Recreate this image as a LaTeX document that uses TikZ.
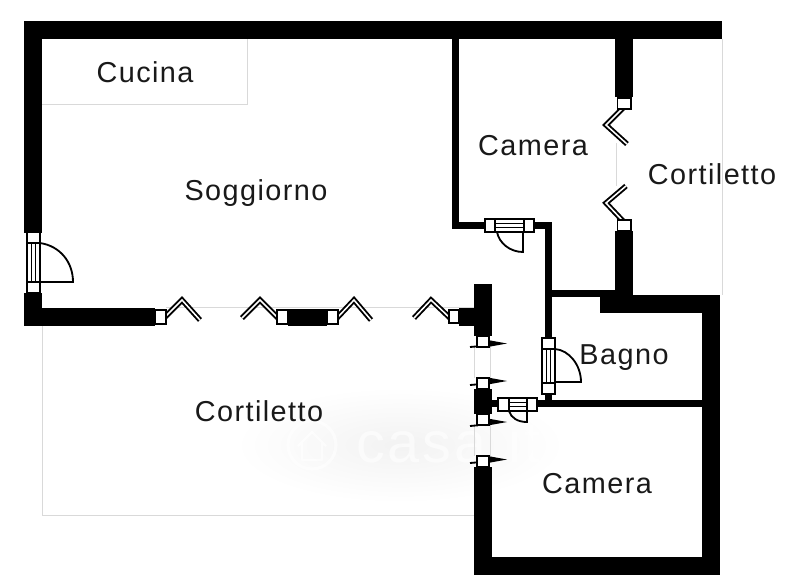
\documentclass[tikz,border=0pt]{standalone}
\usepackage{fontspec}
\setmainfont{Liberation Sans}[LetterSpace=5]
\tikzset{
 x=0.025cm,y=-0.025cm,
 wall/.style={fill=black,draw=none},
 faint/.style={draw=black!15,line width=0.5pt},
 hollow/.style={draw=black,fill=white,line width=1.4pt},
 wingouter/.style={draw=black,line width=3.8pt,line join=miter},
 winginner/.style={draw=white,line width=1.1pt,line join=miter},
 swing/.style={draw=black,line width=1.3pt,fill=none},
 lab/.style={font=\fontsize{20.5pt}{24pt}\selectfont,text=black!90,inner sep=0pt,anchor=base},
 water/.style={font=\fontsize{41pt}{46pt}\selectfont,text=white,text opacity=.6,inner sep=0pt,anchor=base west},
}
\newcommand{\wing}[3]{\draw[wingouter] #1 -- #2 -- #3; \draw[winginner] #1 -- #2 -- #3;}
\newcommand{\hdoor}[2]{%
 \draw[hollow] (#1,#2) rectangle ++(49,13);
 \draw[hollow] (#1,#2) rectangle ++(10,13);
 \draw[hollow] (#1+39,#2) rectangle ++(10,13);
 \draw[black,line width=1.1pt] (#1+10,#2+4.5) -- ++(29,0) (#1+10,#2+8.5) -- ++(29,0);}
\newcommand{\vdoor}[3]{%
 \draw[hollow] (#1,#2) rectangle ++(13,#3);
 \draw[hollow] (#1,#2) rectangle ++(13,11);
 \draw[hollow] (#1,#2+#3-11) rectangle ++(13,11);
 \draw[black,line width=1.1pt] (#1+4.5,#2+11) -- (#1+4.5,#2+#3-11) (#1+8.5,#2+11) -- (#1+8.5,#2+#3-11);}
\newcommand{\slide}[3]{%
 \fill[black] (485,#2-4) -- (507,#2) -- (485,#2+4) -- cycle;
 \draw[black,line width=1.3pt] (470,#3) -- (478,#3-0.7);
 \draw[hollow] (477,#1) rectangle ++(12,10.5);}
\begin{document}
\begin{tikzpicture}
\useasboundingbox (0,0) rectangle (800,587);
% watermark
\shade[inner color=black!5,outer color=white,draw=none] (400,445) ellipse (165 and 58);
\node[water] (wm) at (356,462) {casa.it};
\draw[white,opacity=.6,line width=2.2pt] (312,445) circle (24);
\draw[white,opacity=.6,line width=1.6pt,line join=round] (298,446) -- (312,432) -- (326,446) (302,443) -- (302,460) -- (322,460) -- (322,443);
% faint outlines
\draw[faint] (247,39) -- (247,104) -- (42,104);
\draw[faint] (722,39) -- (722,295);
\draw[faint] (42,326) -- (42,515) -- (474,515);
\draw[faint] (166,307) -- (474,307);
\draw[faint] (616,143) -- (616,186);
\draw[faint] (474,347) -- (474,378) (490,347) -- (490,378);
\draw[faint] (474,424) -- (474,456) (490,424) -- (490,456);
% thick walls
\fill[wall] (24,21) rectangle (722,39);
\fill[wall] (24,21) rectangle (42,233);
\fill[wall] (24,293) rectangle (42,326);
\fill[wall] (24,308) rectangle (155,326);
\fill[wall] (288,309) rectangle (327,326);
\fill[wall] (459,308) rectangle (492,326);
\fill[wall] (474,284) rectangle (492,336);
\fill[wall] (474,389) rectangle (492,414);
\fill[wall] (474,467) rectangle (492,575);
\fill[wall] (474,557) rectangle (720,575);
\fill[wall] (702,295) rectangle (720,575);
\fill[wall] (600,295) rectangle (720,313);
\fill[wall] (615,39) rectangle (633,97);
\fill[wall] (615,231) rectangle (633,297);
% thin walls
\fill[wall] (452,39) rectangle (459,229);
\fill[wall] (452,222) rectangle (485,229);
\fill[wall] (534,222) rectangle (552,229);
\fill[wall] (545,222) rectangle (552,338);
\fill[wall] (552,290) rectangle (615,297);
\fill[wall] (545,394) rectangle (552,407);
\fill[wall] (492,400) rectangle (498,407);
\fill[wall] (537,400) rectangle (702,407);
% swing doors
\draw[swing] (40,243) .. controls (60,246) and (73,262) .. (73,282) -- (40,282);
\vdoor{27}{232}{61}
\draw[swing] (497,232) .. controls (499,243) and (510,252) .. (523,252) -- (523,232);
\hdoor{485}{219}
\draw[swing] (555,349) .. controls (569,350) and (581,365) .. (581,382) -- (555,382);
\vdoor{542}{338}{56}
\draw[swing] (509,411) .. controls (511,418) and (518,422) .. (527,422) -- (527,411);
\draw[hollow] (498,398) rectangle (537,411);
\draw[hollow] (498,398) rectangle (509,411);
\draw[hollow] (527,398) rectangle (537,411);
\draw[black,line width=1.1pt] (509,402.5) -- (527,402.5) (509,406.5) -- (527,406.5);
% folding windows
\wing{(165,317)}{(182,300)}{(200,320)}
\wing{(242,318)}{(260,300)}{(278,318)}
\wing{(337,318)}{(354,300)}{(371,320)}
\wing{(414,318)}{(431,300)}{(450,318)}
\wing{(623,108)}{(606,125)}{(627,144)}
\wing{(626,186)}{(606,203)}{(623,221)}
\draw[hollow] (155,310) rectangle (166,324);
\draw[hollow] (277,310) rectangle (288,324);
\draw[hollow] (327,310) rectangle (338,324);
\draw[hollow] (449,310) rectangle (459,323);
\draw[hollow] (617.5,98) rectangle (631,109);
\draw[hollow] (617.5,220) rectangle (631,231);
% sliding doors
\slide{336.5}{343.5}{347}
\slide{378}{381}{385}
\slide{414.5}{422}{426}
\slide{456}{459.5}{463}
% labels
\node[lab] (cucina) at (145,82) {Cucina};
\node[lab] (soggiorno) at (256,200) {Soggiorno};
\node[lab] (camera1) at (533,155.5) {Camera};
\node[lab] (cort1) at (712,184.5) {Cortiletto};
\node[lab] (bagno) at (624,364) {Bagno};
\node[lab] (cort2) at (259,421.5) {Cortiletto};
\node[lab] (camera2) at (597,493.5) {Camera};
\end{tikzpicture}
\end{document}
